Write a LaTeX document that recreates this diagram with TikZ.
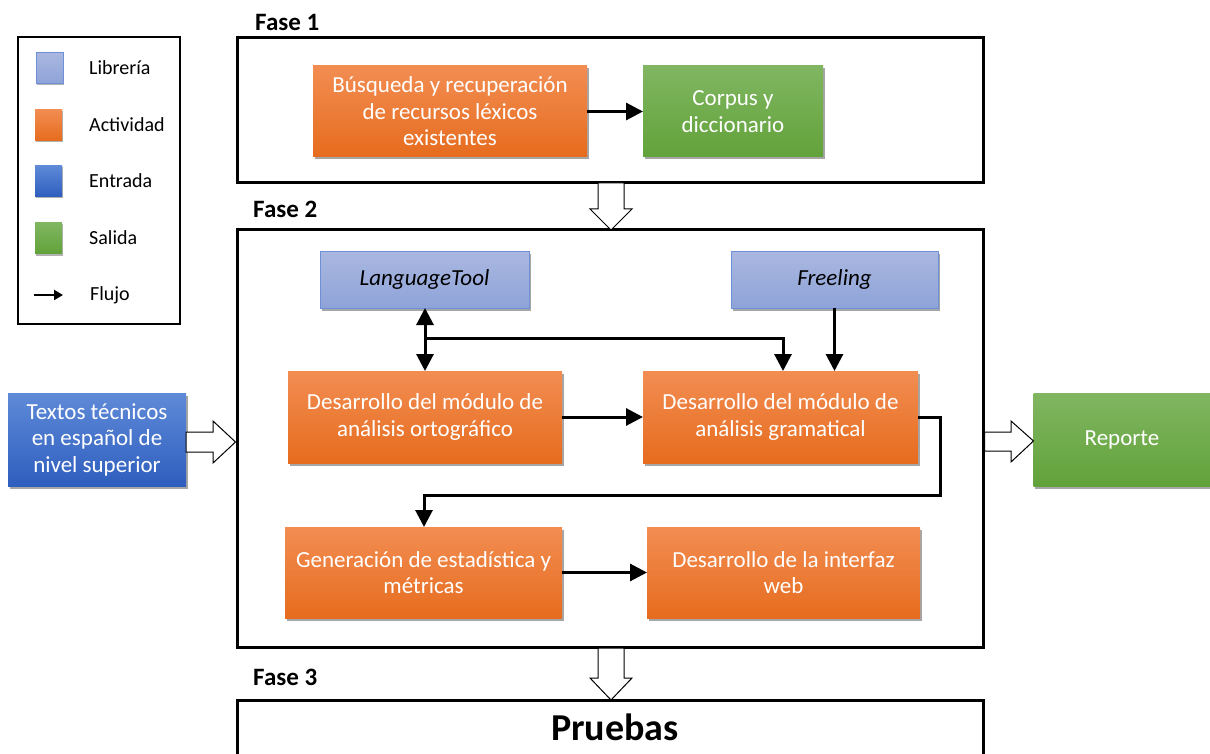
\documentclass[tikz,border=0pt]{standalone}
\usepackage{fontspec}
\setmainfont{Carlito}
\usetikzlibrary{arrows.meta,shadows,calc}
\definecolor{orT}{HTML}{F28D52}
\definecolor{orB}{HTML}{E66C1E}
\definecolor{grT}{HTML}{80B661}
\definecolor{grB}{HTML}{62A23A}
\definecolor{lbT}{HTML}{AAB8E0}
\definecolor{lbB}{HTML}{8EA3D8}
\definecolor{lbD}{HTML}{6F8FD6}
\definecolor{blT}{HTML}{5F8AD8}
\definecolor{blB}{HTML}{2E5EBE}
\tikzset{
  base/.style={inner sep=2pt, outer sep=0pt, align=center,
    font=\fontsize{23}{26.5}\selectfont,
    drop shadow={shadow xshift=1.5pt, shadow yshift=-2.5pt, opacity=0.35, fill=black}},
  act/.style={base, top color=orT, bottom color=orB, text=white},
  outp/.style={base, top color=grT, bottom color=grB, text=white},
  inp/.style={base, top color=blT, bottom color=blB, text=white},
  lib/.style={base, top color=lbT, bottom color=lbB, draw=lbD, line width=0.8pt, text=black,
    font=\fontsize{23}{26.5}\selectfont\itshape},
  frame/.style={draw=black, line width=3pt},
  phase/.style={font=\fontsize{25}{28}\selectfont\bfseries, anchor=west, inner sep=0pt},
  flow/.style={line width=3pt, -{Triangle[length=17pt,width=17pt]}},
  flowboth/.style={line width=3pt, {Triangle[length=17pt,width=17pt]}-{Triangle[length=17pt,width=17pt]}},
  hollow/.style={draw=black, fill=white, line width=1pt, line join=miter},
  legsq/.style={inner sep=0pt, outer sep=0pt, minimum width=27pt, minimum height=31pt,
    drop shadow={shadow xshift=1pt, shadow yshift=-2pt, opacity=0.3, fill=black}},
  legtxt/.style={font=\fontsize{20}{22}\selectfont, anchor=west, inner sep=0pt}
}
\begin{document}
\begin{tikzpicture}[x=1pt,y=-1pt]
\clip (0,0) rectangle (1210,754);
\fill[white] (0,0) rectangle (1210,754);

% Legend
\node[draw=black, line width=2pt, minimum width=162pt, minimum height=287pt, inner sep=0pt] (legend) at (99,180.5) {};
\node[legsq, top color=lbT, bottom color=lbB, draw=lbD, line width=0.8pt] (lq1) at (49.5,68) {};
\node[legtxt] (lt1) at (89,68) {Librería};
\node[legsq, top color=orT, bottom color=orB] (lq2) at (48.5,125) {};
\node[legtxt] (lt2) at (89,125) {Actividad};
\node[legsq, top color=blT, bottom color=blB] (lq3) at (48.5,181) {};
\node[legtxt] (lt3) at (89,181) {Entrada};
\node[legsq, top color=grT, bottom color=grB] (lq4) at (48.5,238) {};
\node[legtxt] (lt4) at (89,238) {Salida};
\coordinate (la1) at (34,295);
\coordinate (la2) at (63,295);
\draw[line width=2.2pt, -{Triangle[length=9pt,width=10pt]}] (la1) -- (la2);
\node[legtxt] (lt5) at (90,295) {Flujo};

% Phase frames
\node[frame, minimum width=746pt, minimum height=145pt, inner sep=0pt] (f1) at (610,110.5) {};
\node[phase] (p1) at (255,22) {Fase 1};
\node[frame, minimum width=746pt, minimum height=417pt, inner sep=0pt] (f2) at (610,438.5) {};
\node[phase] (p2) at (253,209) {Fase 2};
\node[frame, minimum width=746pt, minimum height=120pt, inner sep=0pt] (f3) at (610,760) {};
\node[phase] (p3) at (253,677) {Fase 3};
\node[font=\fontsize{38}{40}\selectfont\bfseries, inner sep=0pt] (pru) at (615,727) {Pruebas};

% Fase 1
\node[act, minimum width=274pt, minimum height=91pt] (busq) at (450,111.5) {Búsqueda y recuperación\\de recursos léxicos\\existentes};
\node[outp, minimum width=180pt, minimum height=91pt] (corp) at (733,111.5) {Corpus y\\diccionario};
\draw[flow] (busq.east) -- (corp.west);

% Fase 2
\node[lib, minimum width=209pt, minimum height=57pt] (lt) at (424.5,279.5) {LanguageTool};
\node[lib, minimum width=207pt, minimum height=57pt] (fre) at (834.5,279.5) {Freeling};
\node[act, minimum width=274pt, minimum height=92pt] (orto) at (425,417) {Desarrollo del módulo de\\análisis ortográfico};
\node[act, minimum width=275pt, minimum height=92pt] (gram) at (780.5,417) {Desarrollo del módulo de\\análisis gramatical};
\node[act, minimum width=277pt, minimum height=91pt] (gen) at (423.5,572.5) {Generación de estadística y\\métricas};
\node[act, minimum width=273pt, minimum height=91pt] (web) at (783.5,572.5) {Desarrollo de la interfaz\\web};

\draw[flowboth] (lt.south -| orto.north) -- (orto.north);
\coordinate (j1) at (425,338);
\coordinate (j2) at (783,338);
\draw[flow] (j1) -- (j2) -- (j2 |- gram.north);
\draw[flow] (fre.south) -- (fre.south |- gram.north);
\draw[flow] (orto.east) -- (gram.west);
\coordinate (r1) at (940,417);
\coordinate (r2) at (940,495);
\coordinate (r3) at (424,495);
\draw[line width=3pt, -{Triangle[length=17pt,width=17pt]}, line join=miter] (gram.east) -- (r1) -- (r2) -- (r3) -- (r3 |- gen.north);
\draw[flow] (gen.east) -- (web.west);

% Input / output
\node[inp, minimum width=178pt, minimum height=93pt] (txt) at (97,439.5) {Textos técnicos\\en español de\\nivel superior};
\node[outp, minimum width=177pt, minimum height=93pt] (rep) at (1122,439.5) {Reporte};

% hollow arrows
\draw[hollow] (txt.east |- 0,432) -- (213,432) -- (213,421) -- (f2.west |- 0,442) -- (213,463) -- (213,452) -- (txt.east |- 0,452) -- cycle;
\draw[hollow] (f2.east |- 0,432) -- (1011,432) -- (1011,421) -- (rep.west |- 0,441) -- (1011,462) -- (1011,451) -- (f2.east |- 0,451) -- cycle;
\draw[hollow] (598,183) -- (598,209) -- (590,209) -- (611,230) -- (632,209) -- (624,209) -- (624,183) -- cycle;
\draw[hollow] (598,648) -- (598,678) -- (590,678) -- (611,700) -- (632,678) -- (624,678) -- (624,648) -- cycle;
\end{tikzpicture}
\end{document}
